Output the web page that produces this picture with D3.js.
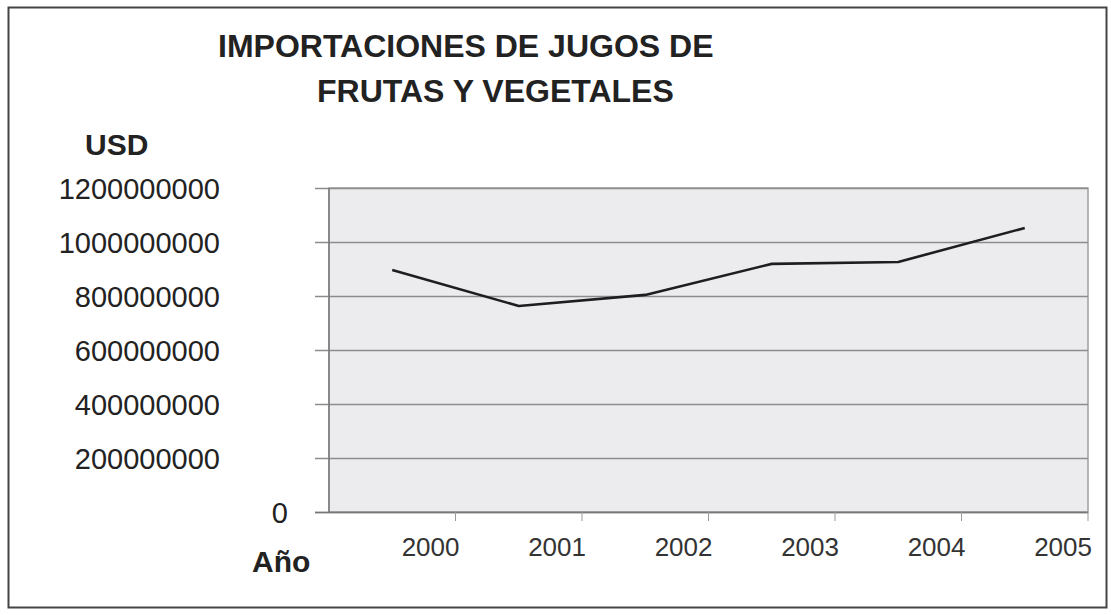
<!doctype html>
<html>
  <head>
    <meta charset="utf-8">
    <title>Importaciones de jugos</title>
    <script src="https://d3js.org/d3.v7.min.js"></script>
    <style type="text/css">
      body { margin: 0; background-color: #ffffff; }
      svg { display: block; font-family: Arial, "Liberation Sans", sans-serif; }
    </style>
  </head>
  <body>
    <script>
      // data
      var years = ["2000", "2001", "2002", "2003", "2004", "2005"];
      var imports = [896000000, 763000000, 804000000, 919000000, 926000000, 1052000000];
      var yTicks = [0, 200000000, 400000000, 600000000, 800000000, 1000000000, 1200000000];
      var titleLines = ["IMPORTACIONES DE JUGOS DE", "FRUTAS Y VEGETALES"];

      var w = 1111, h = 615;
      var plotLeft = 329, plotRight = 1088, plotTop = 188, plotBottom = 512;

      var svg = d3.select("body").append("svg")
        .attr("width", w)
        .attr("height", h);

      // outer frame
      svg.append("rect")
        .attr("x", 8.5).attr("y", 7.5)
        .attr("width", 1098).attr("height", 600)
        .style("fill", "#fff")
        .style("stroke", "#444")
        .style("stroke-width", 2);

      var x = d3.scaleBand().domain(years).range([plotLeft, plotRight]);
      var y = d3.scaleLinear().domain([0, 1200000000]).range([plotBottom, plotTop]);

      // plot area
      svg.append("rect")
        .attr("x", plotLeft).attr("y", plotTop)
        .attr("width", plotRight - plotLeft).attr("height", plotBottom - plotTop)
        .style("fill", "#ececef")
        .style("stroke", "#a0a0a0")
        .style("stroke-width", 1.5);

      // y axis with gridlines
      var yAxis = svg.append("g")
        .attr("transform", "translate(" + plotRight + ",0)")
        .call(d3.axisLeft(y)
          .tickValues(yTicks)
          .tickSize(plotRight - 315)
          .tickPadding(95)
          .tickFormat(d3.format("d")));
      yAxis.select(".domain").remove();
      yAxis.selectAll(".tick line")
        .style("stroke", "#8c8c8c")
        .style("stroke-width", 1.3);
      yAxis.selectAll(".tick text")
        .style("font-size", "29px")
        .style("fill", "#222")
        .attr("dy", "0.36em")
        .attr("dx", function(d) { return d === 0 ? 68 : 0; });

      // left edge of plot
      svg.append("line")
        .attr("x1", plotLeft).attr("x2", plotLeft)
        .attr("y1", plotTop).attr("y2", plotBottom)
        .style("stroke", "#7a7a7a")
        .style("stroke-width", 1.5);

      // x axis
      var xAxis = svg.append("g")
        .attr("transform", "translate(0," + plotBottom + ")")
        .call(d3.axisBottom(x).tickSize(0).tickPadding(26));
      xAxis.select(".domain")
        .attr("d", "M315,0.5H" + plotRight)
        .style("stroke", "#777")
        .style("stroke-width", 1.5);
      xAxis.selectAll(".tick text")
        .style("font-size", "26px")
        .style("fill", "#333")
        .attr("text-anchor", "end")
        .attr("x", x.bandwidth() / 2 + 4);

      // category boundary ticks
      svg.append("g").selectAll("line")
        .data(years)
        .enter()
        .append("line")
        .attr("x1", function(d) { return x(d) + x.bandwidth(); })
        .attr("x2", function(d) { return x(d) + x.bandwidth(); })
        .attr("y1", plotBottom)
        .attr("y2", plotBottom + 9)
        .style("stroke", "#999")
        .style("stroke-width", 1);

      // the series
      var line = d3.line()
        .x(function(d, i) { return x(years[i]) + x.bandwidth() / 2; })
        .y(function(d) { return y(d); });

      svg.append("path")
        .datum(imports)
        .attr("d", line)
        .style("fill", "none")
        .style("stroke", "#1e1e1e")
        .style("stroke-width", 2.6)
        .style("stroke-linejoin", "round");

      // title and axis names
      svg.append("text")
        .attr("x", 218).attr("y", 57)
        .style("font-size", "32px").style("font-weight", "bold").style("fill", "#222")
        .text(titleLines[0]);
      svg.append("text")
        .attr("x", 317).attr("y", 102)
        .style("font-size", "32px").style("font-weight", "bold").style("fill", "#222")
        .text(titleLines[1]);

      svg.append("text")
        .attr("x", 85).attr("y", 155)
        .style("font-size", "30px").style("font-weight", "bold").style("fill", "#222")
        .text("USD");

      svg.append("text")
        .attr("x", 252).attr("y", 572)
        .style("font-size", "30px").style("font-weight", "bold").style("fill", "#222")
        .text("Año");
    </script>
  </body>
</html>
